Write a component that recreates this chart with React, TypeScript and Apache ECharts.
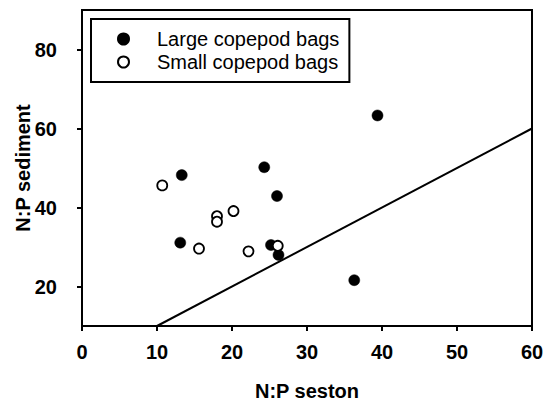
import React, { useEffect, useRef } from "react";
import * as echarts from "echarts";

const largeBags: [number, number][] = [
  [13.3, 48.2],
  [24.3, 50.2],
  [26.0, 42.9],
  [39.4, 63.3],
  [13.1, 31.1],
  [25.2, 30.5],
  [26.2, 28.0],
  [36.3, 21.6],
];

const smallBags: [number, number][] = [
  [10.7, 45.6],
  [18.0, 37.8],
  [18.0, 36.4],
  [20.2, 39.1],
  [15.6, 29.6],
  [22.2, 28.9],
  [26.1, 30.3],
];

const oneToOneLine: [number, number][] = [
  [10, 10],
  [60, 60],
];

const yTickValues = [20, 40, 60, 80];

const FONT = "'Liberation Sans', Arial, sans-serif";

export default function App() {
  const ref = useRef<HTMLDivElement>(null);
  useEffect(() => {
    if (!ref.current) return;
    const chart = echarts.init(ref.current, null, { renderer: "svg" });
    chart.setOption({
      animation: false,
      backgroundColor: "#fff",
      textStyle: { fontFamily: FONT },
      grid: {
        left: 82,
        right: 13,
        top: 10,
        bottom: 77,
        containLabel: false,
        outerBoundsMode: "none",
        show: true,
        borderColor: "#000",
        borderWidth: 2,
      },
      legend: {
        orient: "vertical",
        left: 91,
        top: 19,
        padding: [10, 10, 10, 26],
        itemGap: 3,
        itemWidth: 11,
        itemHeight: 11,
        borderColor: "#000",
        borderWidth: 2,
        textStyle: {
          fontFamily: FONT,
          fontSize: 20,
          color: "#000",
          padding: [0, 0, 0, 23],
        },
        data: ["Large copepod bags", "Small copepod bags"],
      },
      xAxis: {
        type: "value",
        min: 0,
        max: 60,
        interval: 10,
        name: "N:P seston",
        nameLocation: "middle",
        nameGap: 55,
        nameMoveOverlap: false,
        nameTextStyle: { fontFamily: FONT, fontSize: 20, fontWeight: "bold", color: "#000" },
        axisLine: { show: true, lineStyle: { color: "#000", width: 2 } },
        axisTick: { show: true, inside: false, length: 5, lineStyle: { color: "#000", width: 2 } },
        axisLabel: { margin: 16, fontFamily: FONT, fontSize: 20, fontWeight: "bold", color: "#000" },
        splitLine: { show: false },
      },
      yAxis: {
        type: "value",
        min: 10,
        max: 90,
        name: "N:P sediment",
        nameLocation: "middle",
        nameGap: 49,
        nameMoveOverlap: false,
        nameTextStyle: { fontFamily: FONT, fontSize: 20, fontWeight: "bold", color: "#000" },
        axisLine: { show: true, lineStyle: { color: "#000", width: 2 } },
        axisTick: {
          show: true,
          inside: false,
          length: 5,
          lineStyle: { color: "#000", width: 2 },
          customValues: yTickValues,
        },
        axisLabel: {
          margin: 16,
          padding: [0, 9, 0, 0],
          fontFamily: FONT,
          fontSize: 20,
          fontWeight: "bold",
          color: "#000",
          customValues: yTickValues,
        },
        splitLine: { show: false },
      },
      series: [
        {
          name: "1:1",
          type: "line",
          data: oneToOneLine,
          showSymbol: false,
          symbol: "none",
          lineStyle: { color: "#000", width: 2 },
          silent: true,
          z: 1,
        },
        {
          name: "Large copepod bags",
          type: "scatter",
          data: largeBags,
          symbol: "circle",
          symbolSize: 11,
          itemStyle: { color: "#000", borderColor: "#000", borderWidth: 0.5, opacity: 1 },
          z: 3,
        },
        {
          name: "Small copepod bags",
          type: "scatter",
          data: smallBags,
          symbol: "circle",
          symbolSize: 10,
          itemStyle: { color: "#fff", borderColor: "#000", borderWidth: 1.8, opacity: 1 },
          z: 4,
        },
      ],
    });
    return () => chart.dispose();
  }, []);
  return <div ref={ref} style={{ width: 545, height: 403, position: "absolute", left: 0, top: 0 }} />;
}
